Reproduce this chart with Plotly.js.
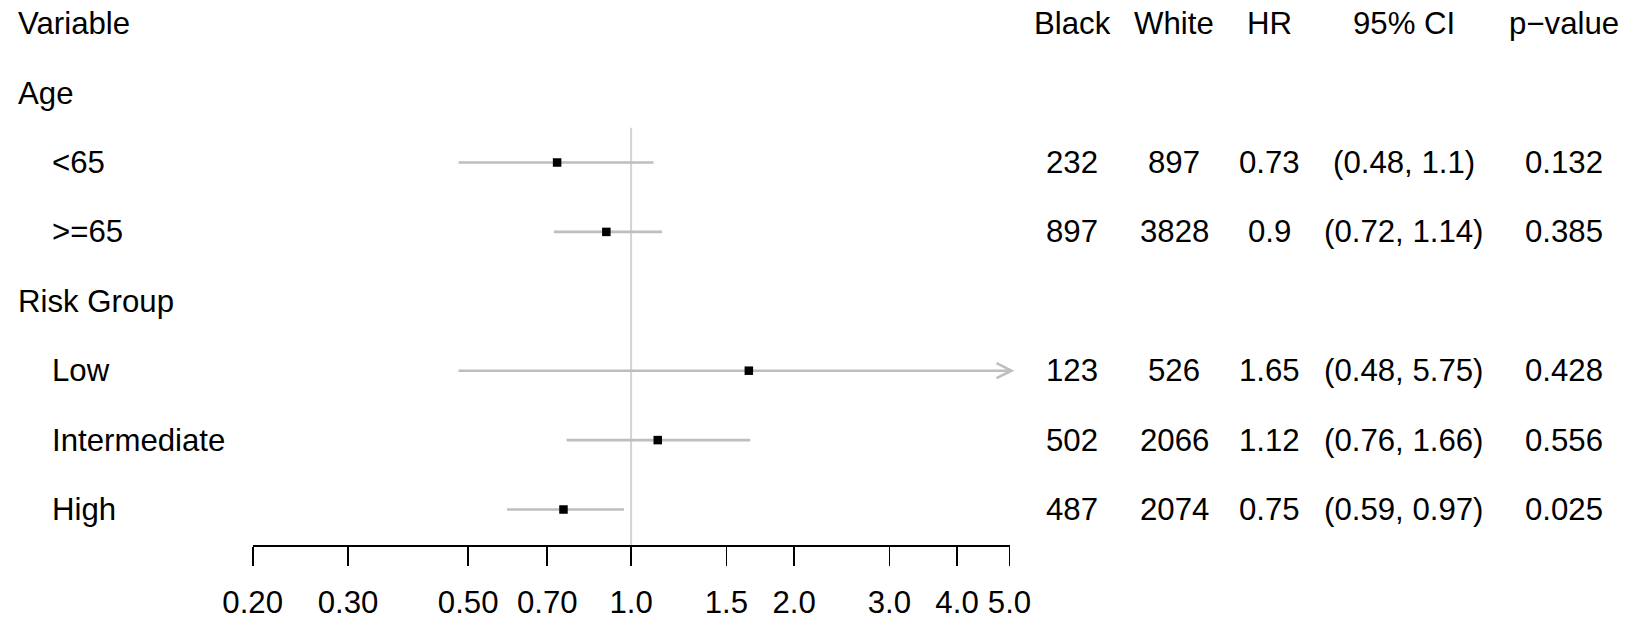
<!DOCTYPE html>
<html>
<head>
<meta charset="utf-8">
<script src="https://cdn.plot.ly/plotly-3.0.1.min.js"></script>
<style>html,body{margin:0;padding:0;background:#fff;}#chart{width:1635px;height:622px;}</style>
</head>
<body>
<div id="chart"></div>
<script>
// ---- data ----
const labels   = ["Age", "<65", ">=65", "Risk Group", "Low", "Intermediate", "High"];
const isGroup  = [true, false, false, true, false, false, false];
const black    = [null, 232, 897, null, 123, 502, 487];
const white    = [null, 897, 3828, null, 526, 2066, 2074];
const hr       = [null, 0.73, 0.9, null, 1.65, 1.12, 0.75];
const ciLow    = [null, 0.48, 0.72, null, 0.48, 0.76, 0.59];
const ciHigh   = [null, 1.1, 1.14, null, 5.75, 1.66, 0.97];
const pval     = [null, 0.132, 0.385, null, 0.428, 0.556, 0.025];
const headers  = ["Variable", "Black", "White", "HR", "95% CI", "p\u2212value"];
const tickVals = [0.2, 0.3, 0.5, 0.7, 1.0, 1.5, 2.0, 3.0, 4.0, 5.0];
const tickText = ["0.20", "0.30", "0.50", "0.70", "1.0", "1.5", "2.0", "3.0", "4.0", "5.0"];
const xMin = 0.2, xMax = 5.0, refValue = 1.0;

// ---- layout geometry ----
const W = 1635, H = 622;
const FONT = "Liberation Sans, Arial, Helvetica, sans-serif";
const FS = 31.2;
const rowPx0 = 23.7, rowStep = 69.4, axisPx = 545;
const yRange = [(axisPx - rowPx0) / rowStep, (0 - rowPx0) / rowStep];
const yDomain = [1 - axisPx / H, 1];
const xDomain = [252.7 / W, 1009.5 / W];
const colCenters = [1072, 1174, 1269, 1404, 1564]; // px
const groupLeft = 15.5, subLeft = 49.5; // px

const rows = labels.map((_, i) => i + 1);
const CI_COLOR = "#bebebe", REF_COLOR = "#d3d3d3";

const traces = [];
rows.forEach((r, i) => {
  if (hr[i] === null) return;
  traces.push({
    type: "scatter", mode: "lines", x: [ciLow[i], ciHigh[i]], y: [r, r],
    line: {color: CI_COLOR, width: 2.6}, hoverinfo: "skip", showlegend: false
  });
});
const idx = rows.map((_, i) => i).filter(i => hr[i] !== null);
traces.push({
  type: "scatter", mode: "markers",
  x: idx.map(i => hr[i]), y: idx.map(i => rows[i]),
  marker: {symbol: "square", size: 8.5, color: "#000", line: {width: 0}},
  showlegend: false, hoverinfo: "x"
});

const ann = [];
function txt(text, xpx, y, anchor) {
  ann.push({text: text, x: xpx / W, xref: "paper", y: y, yref: "y",
            xanchor: anchor, yanchor: "middle", showarrow: false,
            font: {family: FONT, size: FS, color: "#000"}});
}
// header row
txt(headers[0], groupLeft, 0, "left");
headers.slice(1).forEach((h, j) => txt(h, colCenters[j], 0, "center"));
// body rows
rows.forEach((r, i) => {
  txt(labels[i], isGroup[i] ? groupLeft : subLeft, r, "left");
  if (hr[i] === null) return;
  txt(String(black[i]), colCenters[0], r, "center");
  txt(String(white[i]), colCenters[1], r, "center");
  txt(String(hr[i]), colCenters[2], r, "center");
  txt("(" + ciLow[i] + ", " + ciHigh[i] + ")", colCenters[3], r, "center");
  txt(pval[i].toFixed(3), colCenters[4], r, "center");
});

const shapes = [{
  type: "line", xref: "x", yref: "y", x0: refValue, x1: refValue,
  y0: 1.5, y1: yRange[0], line: {color: REF_COLOR, width: 2}, layer: "below"
}];
rows.forEach((r, i) => {
  if (hr[i] !== null && ciHigh[i] > xMax) {
    shapes.push({
      type: "path", xref: "paper", yref: "y",
      xsizemode: "pixel", ysizemode: "pixel",
      xanchor: xDomain[1], yanchor: r,
      path: "M-13,7.5 L2,0 L-13,-7.5",
      line: {color: CI_COLOR, width: 2.6}
    });
  }
});

const layout = {
  width: W, height: H,
  margin: {l: 0, r: 0, t: 0, b: 0, pad: 0},
  paper_bgcolor: "#fff", plot_bgcolor: "#fff",
  showlegend: false,
  font: {family: FONT, size: FS, color: "#000"},
  xaxis: {
    type: "log", domain: xDomain,
    range: [Math.log10(xMin), Math.log10(xMax)],
    showgrid: false, zeroline: false,
    showline: true, linecolor: "#000", linewidth: 2,
    ticks: "outside", ticklen: 19, tickwidth: 1.8, tickcolor: "#000",
    tickvals: tickVals, ticktext: tickText,
    tickfont: {family: FONT, size: FS, color: "#000"},
    ticklabelstandoff: 10,
    fixedrange: true
  },
  yaxis: {
    domain: yDomain, range: yRange, visible: false, fixedrange: true
  },
  shapes: shapes,
  annotations: ann
};

Plotly.newPlot("chart", traces, layout, {displayModeBar: false, staticPlot: true});
</script>
</body>
</html>
